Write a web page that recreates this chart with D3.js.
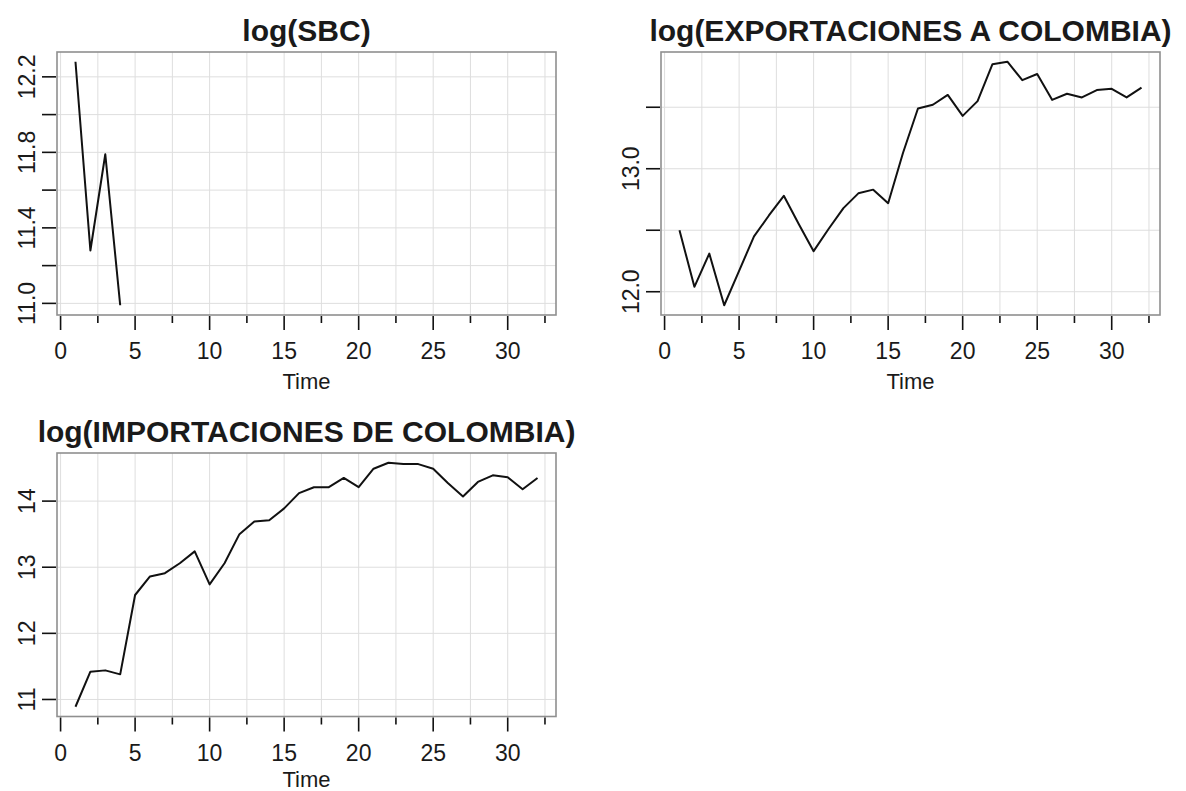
<!DOCTYPE html>
<html>
<head>
<meta charset="utf-8">
<script src="https://cdn.jsdelivr.net/npm/d3@7"></script>
<style>
body{margin:0;background:#fff;}
text{font-family:"Liberation Sans",Arial,sans-serif;fill:#1a1a1a;}
</style>
</head>
<body>
<div id="chart"></div>
<script>
// time index 1..32
var time=[1,2,3,4,5,6,7,8,9,10,11,12,13,14,15,16,17,18,19,20,21,22,23,24,25,26,27,28,29,30,31,32];
var sbc=[12.28,11.28,11.79,10.99,null,null,null,null,null,null,null,null,null,null,null,null,
         null,null,null,null,null,null,null,null,null,null,null,null,null,null,null,null];
var exportaciones=[12.50,12.04,12.31,11.89,12.17,12.45,12.62,12.78,12.55,12.33,12.51,12.68,12.80,12.83,12.72,13.13,
                   13.49,13.52,13.60,13.43,13.55,13.85,13.87,13.72,13.77,13.56,13.61,13.58,13.64,13.65,13.58,13.66];
var importaciones=[10.89,11.42,11.44,11.38,12.58,12.86,12.91,13.06,13.24,12.74,13.06,13.50,13.69,13.71,13.89,14.12,
                   14.21,14.21,14.35,14.21,14.49,14.58,14.56,14.56,14.49,14.27,14.07,14.29,14.39,14.36,14.18,14.35];

var xTicks=[0,2.5,5,7.5,10,12.5,15,17.5,20,22.5,25,27.5,30,32.5];
var xLabels=["0","5","10","15","20","25","30"];
var yTicks1=[11.0,11.2,11.4,11.6,11.8,12.0,12.2], yLabels1=["11.0","11.4","11.8","12.2"];
var yTicks2=[12.0,12.5,13.0,13.5], yLabels2=["12.0","13.0"];
var yTicks3=[11,12,13,14], yLabels3=["11","12","13","14"];

var svg=d3.select("#chart").append("svg")
  .attr("width",1186)
  .attr("height",791);

drawPanel({title:"log(SBC)",values:sbc,yTicks:yTicks1,yLabels:yLabels1,x0:57,x1:556,y0:52,y1:315});
drawPanel({title:"log(EXPORTACIONES A COLOMBIA)",values:exportaciones,yTicks:yTicks2,yLabels:yLabels2,x0:661,x1:1160,y0:52,y1:315});
drawPanel({title:"log(IMPORTACIONES DE COLOMBIA)",values:importaciones,yTicks:yTicks3,yLabels:yLabels3,x0:57,x1:556,y0:453,y1:716.5});

function drawPanel(p){
  // R style 4% padding on both axes
  var tx=d3.extent(time), padx=(tx[1]-tx[0])*0.04;
  var vy=d3.extent(p.values.filter(v=>v!=null)), pady=(vy[1]-vy[0])*0.04;
  var x=d3.scaleLinear().domain([tx[0]-padx,tx[1]+padx]).range([p.x0,p.x1]);
  var y=d3.scaleLinear().domain([vy[0]-pady,vy[1]+pady]).range([p.y1,p.y0]);
  var g=svg.append("g");

  // grid
  xTicks.forEach(t=>
    g.append("line")
    .attr("x1",x(t)).attr("x2",x(t))
    .attr("y1",p.y0).attr("y2",p.y1)
    .attr("stroke","#dedede").attr("stroke-width",1)
  );
  p.yTicks.forEach(t=>
    g.append("line")
    .attr("x1",p.x0).attr("x2",p.x1)
    .attr("y1",y(t)).attr("y2",y(t))
    .attr("stroke","#dedede").attr("stroke-width",1)
  );

  // series
  var line=d3.line()
    .defined(d=>d[1]!=null)
    .x(d=>x(d[0]))
    .y(d=>y(d[1]));
  g.append("path")
    .datum(time.map((t,i)=>[t,p.values[i]]))
    .attr("d",line)
    .attr("fill","none")
    .attr("stroke","#111")
    .attr("stroke-width",2)
    .attr("stroke-linejoin","round");

  // box
  g.append("rect")
    .attr("x",p.x0).attr("y",p.y0)
    .attr("width",p.x1-p.x0).attr("height",p.y1-p.y0)
    .attr("fill","none").attr("stroke","#8f8f8f").attr("stroke-width",1.6);

  // x axis ticks, long ones where labelled
  xTicks.forEach(t=>{
    var major=(t%5==0);
    g.append("line")
    .attr("x1",x(t)).attr("x2",x(t))
    .attr("y1",p.y1+1).attr("y2",p.y1+(major?15:8))
    .attr("stroke","#111").attr("stroke-width",1.6);
  });
  xLabels.forEach(l=>
    g.append("text")
    .attr("x",x(+l)).attr("y",p.y1+44)
    .attr("text-anchor","middle")
    .style("font-size","23px")
    .text(l)
  );
  g.append("text")
    .attr("x",(p.x0+p.x1)/2).attr("y",Math.min(p.y1+74,787))
    .attr("text-anchor","middle")
    .style("font-size","22px")
    .text("Time");

  // y axis
  p.yTicks.forEach(t=>
    g.append("line")
    .attr("x1",p.x0-15).attr("x2",p.x0-1)
    .attr("y1",y(t)).attr("y2",y(t))
    .attr("stroke","#111").attr("stroke-width",1.6)
  );
  p.yLabels.forEach(l=>
    g.append("text")
    .attr("transform","translate("+(p.x0-22)+","+y(+l)+") rotate(-90)")
    .attr("text-anchor","middle")
    .style("font-size","23px")
    .text(l)
  );

  // title
  g.append("text")
    .attr("x",(p.x0+p.x1)/2).attr("y",p.y0-11.5)
    .attr("text-anchor","middle")
    .style("font-size","30px")
    .style("font-weight","bold")
    .text(p.title);
}
</script>
</body>
</html>
